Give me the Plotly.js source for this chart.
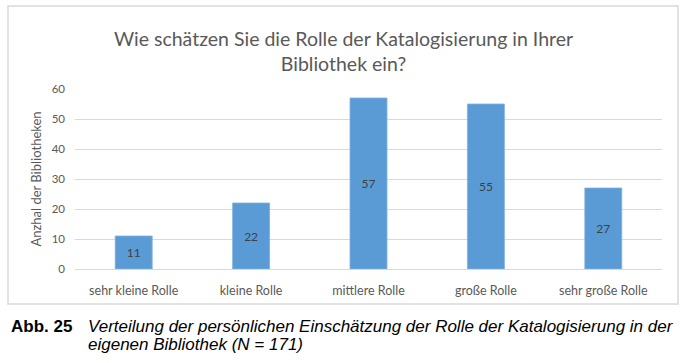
<!DOCTYPE html>
<html><head><meta charset="utf-8">
<script src="https://cdn.plot.ly/plotly-3.0.1.min.js"></script>
<style>html,body{margin:0;padding:0;background:#fff;}#chart{width:687px;height:363px;}</style>
</head><body><div id="chart"></div>
<script>
const categories = ["sehr kleine Rolle", "kleine Rolle", "mittlere Rolle", "große Rolle", "sehr große Rolle"];
const values = [11, 22, 57, 55, 27];
const yTicks = [0, 10, 20, 30, 40, 50, 60];
const titleText = "Wie schätzen Sie die Rolle der Katalogisierung in Ihrer<br>Bibliothek ein?";
const yTitle = "Anzhal der Bibliotheken";
const captionLabel = "Abb. 25";
const captionLines = ["Verteilung der persönlichen Einschätzung der Rolle der Katalogisierung in der", "eigenen Bibliothek (N = 171)"];

const font = "Lato, 'Open Sans', sans-serif";
const capFont = "'Liberation Sans', Arial, sans-serif";
const W = 587, H = 180, L = 75, T = 89;
const px = v => (v - L) / W;
const py = v => 1 - (v - T) / H;

const trace = {
  type: "bar", x: categories, y: values,
  marker: {color: "#5b9bd5", line: {color: "#7eb1de", width: 0.8}},
  text: values.map(String), textposition: "inside", insidetextanchor: "middle",
  textfont: {family: font, size: 12, color: "#404040"},
  hoverinfo: "skip"
};
const layout = {
  width: 687, height: 363,
  paper_bgcolor: "#fff", plot_bgcolor: "#fff",
  margin: {l: L, r: 687 - L - W, t: T, b: 363 - T - H},
  bargap: 0.685,
  showlegend: false,
  title: {text: titleText, x: 0.5, xref: "container", xanchor: "center", y: 1 - 46/363, yref: "container", yanchor: "middle",
    font: {family: font, size: 19.5, color: "#595959"}},
  xaxis: {type: "category", showgrid: false, showline: true, linecolor: "#d9d9d9", linewidth: 1, ticks: "",
    ticklabelstandoff: 10,
    tickfont: {family: font, size: 12.5, color: "#595959"}, fixedrange: true},
  yaxis: {range: [0, 60], tickvals: yTicks, showgrid: true, gridcolor: "#d9d9d9", zeroline: false, showline: false, ticks: "",
    ticklabelstandoff: 9,
    tickfont: {family: font, size: 11.5, color: "#595959"},
    title: {text: yTitle, font: {family: font, size: 13, color: "#595959"}, standoff: 7}},
  shapes: [{type: "rect", xref: "paper", yref: "paper", x0: px(8), x1: px(678), y0: py(304), y1: py(6),
    line: {color: "#d9d9d9", width: 1.5}, fillcolor: "rgba(0,0,0,0)", layer: "below"}],
  annotations: [
    {text: "<b>" + captionLabel + "</b>", xref: "paper", yref: "paper", x: px(9), y: py(326), xanchor: "left", yanchor: "middle", showarrow: false,
      font: {family: capFont, size: 17, color: "#000"}},
    {text: "<i>" + captionLines[0] + "</i>", xref: "paper", yref: "paper", x: px(86), y: py(326), xanchor: "left", yanchor: "middle", showarrow: false,
      font: {family: capFont, size: 17, color: "#000"}},
    {text: "<i>" + captionLines[1] + "</i>", xref: "paper", yref: "paper", x: px(86), y: py(344), xanchor: "left", yanchor: "middle", showarrow: false,
      font: {family: capFont, size: 17, color: "#000"}}
  ]
};
Plotly.newPlot("chart", [trace], layout, {staticPlot: true, displayModeBar: false});
</script></body></html>
